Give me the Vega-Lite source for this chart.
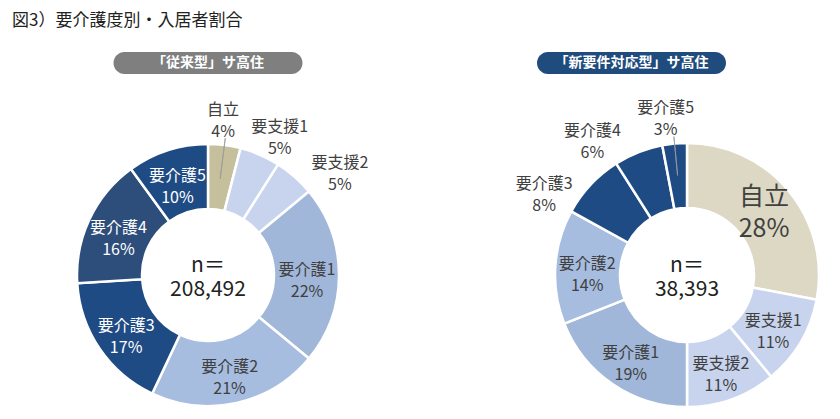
{
  "$schema": "https://vega.github.io/schema/vega-lite/v6.json",
  "background": "white",
  "padding": {"left": 12, "top": 12, "right": 0, "bottom": 0},
  "title": {
    "text": "図3）要介護度別・入居者割合",
    "anchor": "start",
    "fontSize": 17,
    "fontWeight": "normal",
    "color": "#222222",
    "offset": 22
  },
  "datasets": {
    "share": [
      {"g": "従来型", "cat": "自立", "pct": 4, "o": 1},
      {"g": "従来型", "cat": "要支援1", "pct": 5, "o": 2},
      {"g": "従来型", "cat": "要支援2", "pct": 5, "o": 3},
      {"g": "従来型", "cat": "要介護1", "pct": 22, "o": 4},
      {"g": "従来型", "cat": "要介護2", "pct": 21, "o": 5},
      {"g": "従来型", "cat": "要介護3", "pct": 17, "o": 6},
      {"g": "従来型", "cat": "要介護4", "pct": 16, "o": 7},
      {"g": "従来型", "cat": "要介護5", "pct": 10, "o": 8},
      {"g": "新要件対応型", "cat": "自立", "pct": 28, "o": 1},
      {"g": "新要件対応型", "cat": "要支援1", "pct": 11, "o": 2},
      {"g": "新要件対応型", "cat": "要支援2", "pct": 11, "o": 3},
      {"g": "新要件対応型", "cat": "要介護1", "pct": 19, "o": 4},
      {"g": "新要件対応型", "cat": "要介護2", "pct": 14, "o": 5},
      {"g": "新要件対応型", "cat": "要介護3", "pct": 8, "o": 6},
      {"g": "新要件対応型", "cat": "要介護4", "pct": 6, "o": 7},
      {"g": "新要件対応型", "cat": "要介護5", "pct": 3, "o": 8}
    ],
    "totals": [
      {"g": "従来型", "n": 208492},
      {"g": "新要件対応型", "n": 38393}
    ]
  },
  "columns": 2,
  "concat": [
    {
      "width": 189,
      "height": 22,
      "view": {"fill": "#7f7f7f", "cornerRadius": 11, "stroke": null},
      "data": {"values": [{"t": "「従来型」サ高住"}]},
      "mark": {"type": "text", "color": "white", "fontSize": 14, "fontWeight": "bold"},
      "encoding": {"text": {"field": "t"}}
    },
    {
      "width": 189,
      "height": 22,
      "view": {"fill": "#1f4b7d", "cornerRadius": 11, "stroke": null},
      "data": {"values": [{"t": "「新要件対応型」サ高住"}]},
      "mark": {"type": "text", "color": "white", "fontSize": 14, "fontWeight": "bold"},
      "encoding": {"text": {"field": "t"}}
    },
    {
      "width": 392,
      "height": 280,
      "data": {"name": "share"},
      "transform": [
        {"filter": "datum.g === '従来型'"},
        {"calculate": "datum.cat + '\\n' + datum.pct + '%'", "as": "label"}
      ],
      "encoding": {
        "theta": {"field": "pct", "type": "quantitative", "stack": true},
        "order": {"field": "o", "type": "ordinal"}
      },
      "layer": [
        {
          "mark": {"type": "arc", "innerRadius": 66, "outerRadius": 131, "stroke": "white", "strokeWidth": 2.5},
          "encoding": {
            "color": {
              "field": "cat",
              "type": "nominal",
              "legend": null,
              "scale": {
                "domain": ["自立", "要支援1", "要支援2", "要介護1", "要介護2", "要介護3", "要介護4", "要介護5"],
                "range": ["#c5bf9b", "#c8d4ee", "#c8d4ee", "#a0b7da", "#a6bde0", "#1f4b85", "#2d4e7b", "#1f4b85"]
              }
            }
          }
        },
        {
          "mark": {"type": "arc", "innerRadius": 97, "outerRadius": 138, "padAngle": 1, "fill": "transparent", "stroke": "#9a9a9a", "strokeWidth": 0.8},
          "encoding": {
            "strokeOpacity": {"condition": {"test": "datum.cat === '自立'", "value": 1}, "value": 0}
          }
        },
        {
          "mark": {"type": "text", "radius": 99, "dy": -5, "lineBreak": "\n", "lineHeight": 22, "fontSize": 16},
          "encoding": {
            "text": {"condition": {"test": "datum.pct >= 10", "field": "label"}, "value": ""},
            "color": {"condition": {"test": "indexof(['要介護3','要介護4','要介護5'], datum.cat) >= 0", "value": "white"}, "value": "#404040"}
          }
        },
        {
          "mark": {"type": "text", "radius": 158, "thetaOffset": -0.03, "dy": -8, "lineBreak": "\n", "lineHeight": 22, "fontSize": 16, "color": "#404040"},
          "encoding": {
            "text": {"condition": {"test": "datum.cat === '自立'", "field": "label"}, "value": ""}
          }
        },
        {
          "mark": {"type": "text", "radius": 157, "thetaOffset": 0.066, "dy": -8, "lineBreak": "\n", "lineHeight": 22, "fontSize": 16, "color": "#404040"},
          "encoding": {
            "text": {"condition": {"test": "datum.cat === '要支援1'", "field": "label"}, "value": ""}
          }
        },
        {
          "mark": {"type": "text", "radius": 168, "thetaOffset": 0.18, "dy": -8, "lineBreak": "\n", "lineHeight": 22, "fontSize": 16, "color": "#404040"},
          "encoding": {
            "text": {"condition": {"test": "datum.cat === '要支援2'", "field": "label"}, "value": ""}
          }
        },
        {
          "data": {"name": "totals"},
          "transform": [
            {"filter": "datum.g === '従来型'"},
            {"calculate": "'n＝\\n' + format(datum.n, ',')", "as": "nl"}
          ],
          "mark": {"type": "text", "lineBreak": "\n", "lineHeight": 24, "fontSize": 21, "dy": -9, "color": "#222222"},
          "encoding": {"text": {"field": "nl"}, "theta": null, "order": null}
        }
      ]
    },
    {
      "width": 300,
      "height": 280,
      "data": {"name": "share"},
      "transform": [
        {"filter": "datum.g === '新要件対応型'"},
        {"calculate": "datum.cat + '\\n' + datum.pct + '%'", "as": "label"}
      ],
      "encoding": {
        "theta": {"field": "pct", "type": "quantitative", "stack": true},
        "order": {"field": "o", "type": "ordinal"}
      },
      "layer": [
        {
          "mark": {"type": "arc", "innerRadius": 67, "outerRadius": 132, "stroke": "white", "strokeWidth": 2.5},
          "encoding": {
            "color": {
              "field": "cat",
              "type": "nominal",
              "legend": null,
              "scale": {
                "domain": ["自立", "要支援1", "要支援2", "要介護1", "要介護2", "要介護3", "要介護4", "要介護5"],
                "range": ["#dcd8c3", "#c8d4ee", "#c8d4ee", "#a0b7da", "#a6bde0", "#1f4b85", "#1f4b85", "#1f4b85"]
              }
            }
          }
        },
        {
          "mark": {"type": "arc", "innerRadius": 100, "outerRadius": 139, "padAngle": 1, "fill": "transparent", "stroke": "#9a9a9a", "strokeWidth": 0.8},
          "encoding": {
            "strokeOpacity": {"condition": {"test": "datum.cat === '要介護5'", "value": 1}, "value": 0}
          }
        },
        {
          "mark": {"type": "text", "radius": 100, "dy": -5, "lineBreak": "\n", "lineHeight": 22, "fontSize": 16},
          "encoding": {
            "text": {"condition": {"test": "datum.pct >= 10 && datum.cat !== '自立'", "field": "label"}, "value": ""},
            "color": {"condition": {"test": "indexof(['要介護3','要介護4','要介護5'], datum.cat) >= 0", "value": "white"}, "value": "#404040"}
          }
        },
        {
          "mark": {"type": "text", "radius": 100, "dy": -14, "lineBreak": "\n", "lineHeight": 32, "fontSize": 25, "color": "#404040"},
          "encoding": {
            "text": {"condition": {"test": "datum.pct >= 10 && datum.cat === '自立'", "field": "label"}, "value": ""}
          }
        },
        {
          "mark": {"type": "text", "radius": 160, "thetaOffset": -0.04, "dy": -8, "lineBreak": "\n", "lineHeight": 22, "fontSize": 16, "color": "#404040"},
          "encoding": {
            "text": {"condition": {"test": "datum.cat === '要介護5'", "field": "label"}, "value": ""}
          }
        },
        {
          "mark": {"type": "text", "radius": 166, "thetaOffset": -0.23, "dy": -8, "lineBreak": "\n", "lineHeight": 22, "fontSize": 16, "color": "#404040"},
          "encoding": {
            "text": {"condition": {"test": "datum.cat === '要介護4'", "field": "label"}, "value": ""}
          }
        },
        {
          "mark": {"type": "text", "radius": 165, "thetaOffset": -0.23, "dy": -8, "lineBreak": "\n", "lineHeight": 22, "fontSize": 16, "color": "#404040"},
          "encoding": {
            "text": {"condition": {"test": "datum.cat === '要介護3'", "field": "label"}, "value": ""}
          }
        },
        {
          "data": {"name": "totals"},
          "transform": [
            {"filter": "datum.g === '新要件対応型'"},
            {"calculate": "'n＝\\n' + format(datum.n, ',')", "as": "nl"}
          ],
          "mark": {"type": "text", "lineBreak": "\n", "lineHeight": 24, "fontSize": 21, "dy": -9, "color": "#222222"},
          "encoding": {"text": {"field": "nl"}, "theta": null, "order": null}
        }
      ]
    }
  ],
  "spacing": {"row": 61, "column": 133},
  "center": true,
  "align": "each",
  "bounds": "flush",
  "resolve": {"scale": {"color": "independent", "theta": "independent"}},
  "config": {
    "font": "Noto Sans CJK JP",
    "view": {"stroke": null}
  }
}
